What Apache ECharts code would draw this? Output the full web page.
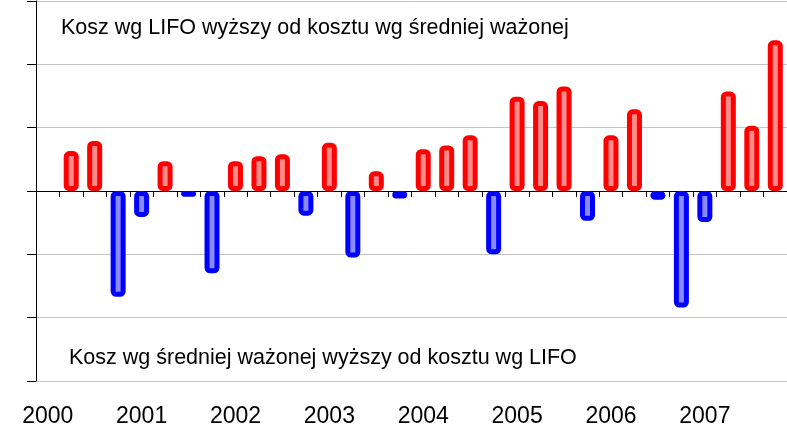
<!DOCTYPE html>
<html>
<head>
<meta charset="utf-8">
<script src="https://cdn.jsdelivr.net/npm/echarts@6/dist/echarts.min.js"></script>
<style>
  html, body { margin: 0; padding: 0; background: #fff; }
  #chart { width: 787px; height: 428px; }
</style>
</head>
<body>
<div id="chart"></div>
<script>
// lata i kwartały
const years = ['2000', '2001', '2002', '2003', '2004', '2005', '2006', '2007']
const quarters = ['Q1', 'Q2', 'Q3', 'Q4']
const categories = years.flatMap(y => quarters.map(q => y + ' ' + q))

// różnica kosztu LIFO vs średnia ważona (pierwszy kwartał bez danych)
const values = [
  null, 0.63, 0.79, -1.67,
  -0.41, 0.47, -0.09, -1.30,
  0.47, 0.55, 0.58, -0.39,
  0.76, -1.05, 0.31, -0.12,
  0.66, 0.72, 0.88, -1.00,
  1.49, 1.42, 1.65, -0.47,
  0.88, 1.29, -0.14, -1.84,
  -0.49, 1.57, 1.03, 2.38
]

const topNote = 'Kosz wg LIFO wyższy od kosztu wg średniej ważonej'
const bottomNote = 'Kosz wg średniej ważonej wyższy od kosztu wg LIFO'

const chart = echarts.init(document.getElementById('chart'))

const barData = values.map(v => {
  if (v === null) return null
  const up = v >= 0
  return {
    value: v,
    itemStyle: {
      color: up ? '#ff8a8a' : '#8a8aff',
      borderColor: up ? '#ff0000' : '#0000ff'
    }
  }
})

const option = {
  backgroundColor: '#fff',
  animation: false,
  grid: { left: 36, right: 0, top: 1, bottom: 45 },
  xAxis: [
    {
      type: 'category',
      data: categories,
      axisLine: { onZero: true, lineStyle: { color: '#000', width: 1 } },
      axisTick: { show: true, interval: 0, length: 6, lineStyle: { color: '#000' } },
      axisLabel: { show: false },
      splitLine: { show: false }
    },
    {
      type: 'category',
      data: categories,
      position: 'bottom',
      axisLine: { show: false, onZero: false },
      axisTick: { show: false },
      axisLabel: {
        interval: 3,
        margin: 24,
        fontSize: 23,
        fontFamily: 'Liberation Sans, Arial, sans-serif',
        color: '#000',
        formatter: v => v.slice(0, 4)
      }
    }
  ],
  yAxis: {
    type: 'value',
    min: -3,
    max: 3,
    interval: 1,
    axisLine: { show: true, lineStyle: { color: '#000' } },
    axisTick: { show: true, length: 9, lineStyle: { color: '#000' } },
    axisLabel: { show: false },
    splitLine: { lineStyle: { color: '#c4c4c4', width: 1 } }
  },
  series: [
    {
      type: 'bar',
      data: barData,
      barWidth: 15,
      itemStyle: { borderWidth: 5, borderRadius: 3 }
    }
  ],
  graphic: [
    {
      type: 'text',
      left: 61,
      top: 17,
      style: {
        text: topNote,
        fontSize: 21.5,
        fontFamily: 'Liberation Sans, Arial, sans-serif',
        fill: '#000'
      }
    },
    {
      type: 'text',
      left: 69,
      top: 347,
      style: {
        text: bottomNote,
        fontSize: 21.5,
        fontFamily: 'Liberation Sans, Arial, sans-serif',
        fill: '#000'
      }
    }
  ]
}

chart.setOption(option)
</script>
</body>
</html>
